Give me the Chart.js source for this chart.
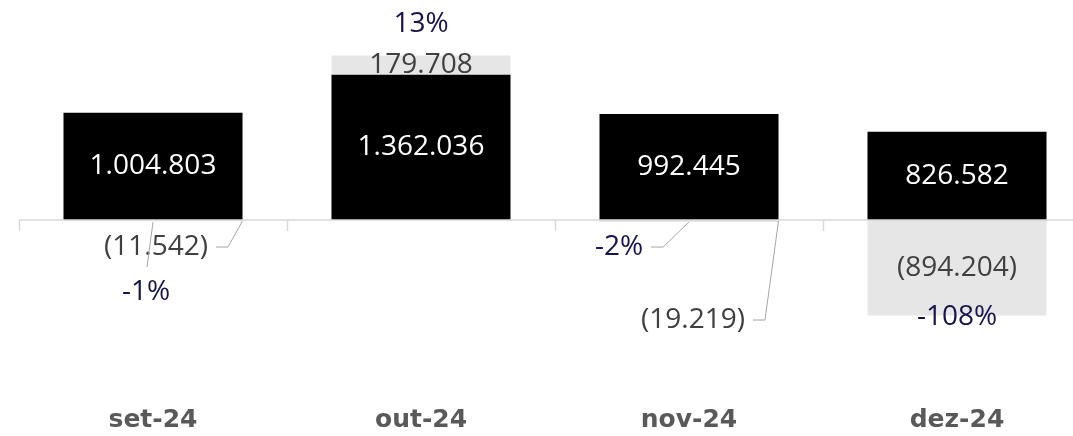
<!DOCTYPE html>
<html>
<head>
<meta charset="utf-8">
<script src="https://cdn.jsdelivr.net/npm/chart.js@4"></script>
<style>
html, body { margin: 0; padding: 0; background: #fff; overflow: hidden; }
#wrap { width: 1073px; height: 436px; overflow: hidden; }
</style>
</head>
<body>
<div id="wrap"><canvas id="myChart" width="1091" height="436"></canvas></div>
<script>
// dados do grafico
const labels = ['set-24', 'out-24', 'nov-24', 'dez-24'];
const resultado = [1004803, 1362036, 992445, 826582];
const variacao = [-11542, 179708, -19219, -894204];
const percentual = ['-1%', '13%', '-2%', '-108%'];

const navy = '#16144a';
const cinzaTexto = '#404040';
const linhaGuia = '#a6a6a6';

// 1.004.803 / (11.542)
function fmt(n){
    const s = Math.abs(n).toString().replace(/\B(?=(\d{3})+(?!\d))/g, '.');
    return n < 0 ? '(' + s + ')' : s;
}

// linha do zero com marcas entre as categorias
const linhaZero = {
    id: 'linhaZero',
    afterDatasetsDraw(chart){
        const {ctx, chartArea} = chart;
        const y0 = chart.scales.y.getPixelForValue(0);
        const passo = chartArea.width / labels.length;
        ctx.save();
        ctx.strokeStyle = '#d9d9d9';
        ctx.lineWidth = 1.5;
        ctx.beginPath();
        ctx.moveTo(chartArea.left, y0);
        ctx.lineTo(chartArea.right, y0);
        for (let i = 0; i <= labels.length; i++){
            const px = Math.round(chartArea.left + i * passo) + 0.5;
            ctx.moveTo(px, y0);
            ctx.lineTo(px, y0 + 11);
        }
        ctx.stroke();
        ctx.restore();
    }
};

// rotulos pequenos ficam fora da barra, com linha guia
const chamadas = {
    0: {val: [3, 27], pct: [-7, 72], guiaPct: 'cima'},
    2: {val: [4, 100], pct: [-70, 27], guiaPct: 'lado'}
};

const rotulos = {
    id: 'rotulos',
    afterDatasetsDraw(chart){
        const ctx = chart.ctx;
        const y0 = chart.scales.y.getPixelForValue(0);
        const barras = chart.getDatasetMeta(0).data;
        const extras = chart.getDatasetMeta(1).data;
        ctx.save();
        ctx.font = '28px "Open Sans"';
        ctx.textAlign = 'center';
        ctx.textBaseline = 'middle';

        barras.forEach((b, i) => {
            ctx.fillStyle = '#fff';
            ctx.fillText(fmt(resultado[i]), b.x, (b.y + b.base) / 2);
        });

        extras.forEach((b, i) => {
            const h = Math.abs(b.base - b.y);
            const meia = b.width / 2;
            if (!chamadas[i]){
                ctx.fillStyle = cinzaTexto;
                ctx.fillText(fmt(variacao[i]), b.x, (b.y + b.base) / 2);
                ctx.fillStyle = navy;
                const py = variacao[i] > 0 ? b.y - 31 : b.y + 2;
                ctx.fillText(percentual[i], b.x, py);
                return;
            }
            const c = chamadas[i];
            ctx.strokeStyle = linhaGuia;
            ctx.lineWidth = 1;

            // valor
            const vx = b.x + c.val[0], vy = y0 + c.val[1];
            const txt = fmt(variacao[i]);
            ctx.fillStyle = cinzaTexto;
            ctx.fillText(txt, vx, vy);
            const fim = vx + ctx.measureText(txt).width / 2 + 8;
            ctx.beginPath();
            ctx.moveTo(fim, vy);
            ctx.lineTo(fim + 12, vy);
            ctx.lineTo(b.x + meia, y0 + 1);
            ctx.stroke();

            // percentual
            const px = b.x + c.pct[0], py = y0 + c.pct[1];
            ctx.fillStyle = navy;
            ctx.fillText(percentual[i], px, py);
            ctx.beginPath();
            if (c.guiaPct === 'cima'){
                ctx.moveTo(b.x - 6, py - 25);
                ctx.lineTo(b.x, y0 + 2);
            } else {
                const f2 = px + ctx.measureText(percentual[i]).width / 2 + 8;
                ctx.moveTo(f2, py);
                ctx.lineTo(f2 + 12, py);
                ctx.lineTo(b.x, y0 + 2);
            }
            ctx.stroke();
        });
        ctx.restore();
    }
};

const data = {
    labels: labels,
    datasets: [{
        label: 'Resultado',
        data: resultado,
        backgroundColor: '#000000',
        borderWidth: 0,
        barPercentage: 1,
        categoryPercentage: 0.668
    }, {
        label: 'Variação',
        data: variacao,
        backgroundColor: '#e6e6e6',
        borderWidth: 0,
        barPercentage: 1,
        categoryPercentage: 0.668
    }]
};

const config = {
    type: 'bar',
    data: data,
    options: {
        responsive: false,
        animation: false,
        devicePixelRatio: 1,
        layout: { padding: { left: 19, right: 0, top: 0, bottom: 0 } },
        plugins: {
            legend: { display: false },
            tooltip: { enabled: false }
        },
        scales: {
            x: {
                stacked: true,
                grid: { display: false, drawTicks: false },
                border: { display: false },
                ticks: {
                    color: '#595959',
                    padding: 1,
                    font: { family: '"DejaVu Sans"', size: 25, weight: 'bold' }
                }
            },
            y: {
                stacked: true,
                display: false,
                min: -1723000,
                max: 2061000
            }
        }
    },
    plugins: [linhaZero, rotulos]
};

const myChart = new Chart(document.getElementById('myChart'), config);
</script>
</body>
</html>
